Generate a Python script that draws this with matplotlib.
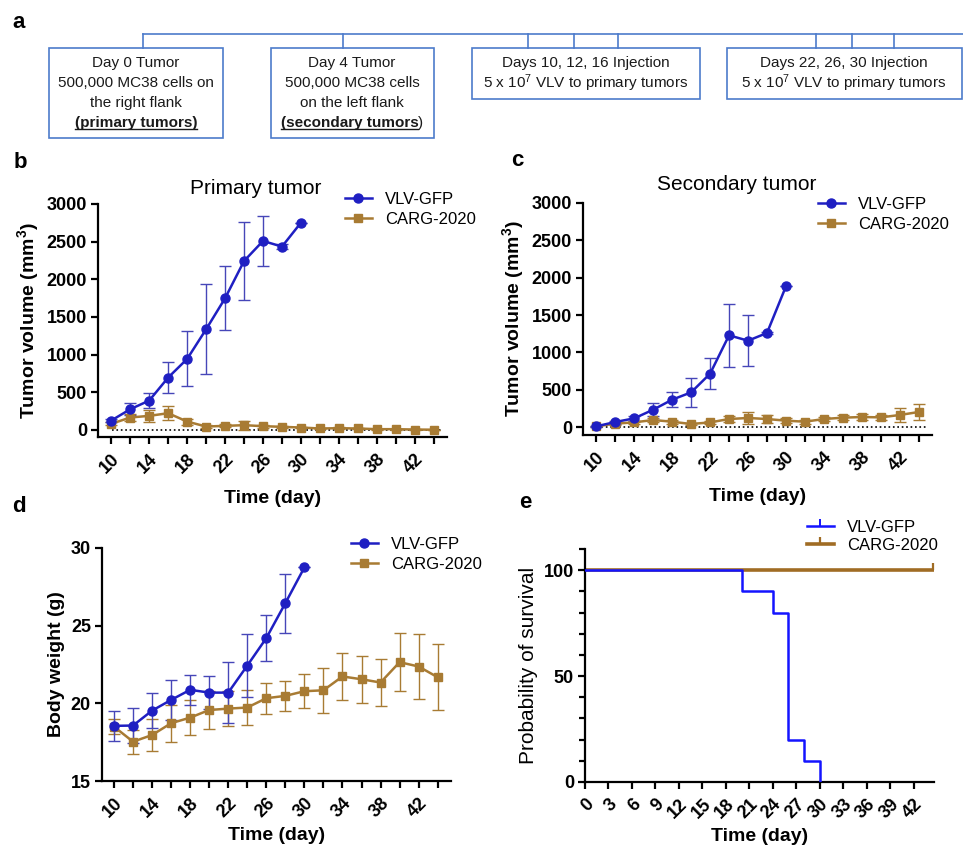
import numpy as np
import matplotlib
matplotlib.use("Agg")
import matplotlib.pyplot as plt
from matplotlib.patches import Rectangle
from matplotlib.lines import Line2D

plt.rcParams['font.family'] = ['Liberation Sans', 'DejaVu Sans']
plt.rcParams['mathtext.fontset'] = 'custom'
plt.rcParams['mathtext.rm'] = 'Liberation Sans'
plt.rcParams['mathtext.bf'] = 'Liberation Sans:bold'
plt.rcParams['mathtext.it'] = 'Liberation Sans:italic'

# ---- data ----
vlv_days = [10, 12, 14, 16, 18, 20, 22, 24, 26, 28, 30]
carg_days = [10, 12, 14, 16, 18, 20, 22, 24, 26, 28, 30, 32, 34, 36, 38, 40, 42, 44]

# b: primary tumor volume (mm3)
vlv_primary = [124, 274, 389, 695, 942, 1336, 1748, 2243, 2509, 2434, 2752]
vlv_primary_err = [25, 80, 100, 210, 365, 600, 425, 520, 335, 30, 0]
carg_primary = [80, 164, 186, 221, 110, 44, 53, 62, 49, 40, 31, 18, 22, 18, 9, 9, 4, 2]
carg_primary_err = [20, 50, 80, 95, 40, 15, 20, 60, 20, 15, 10, 8, 10, 8, 5, 5, 3, 2]

# c: secondary tumor volume (mm3)
vlv_secondary = [9, 67, 116, 232, 366, 464, 714, 1228, 1156, 1259, 1884]
vlv_secondary_err = [5, 20, 30, 90, 100, 195, 205, 425, 340, 20, 0]
carg_secondary = [9, 45, 62, 94, 71, 40, 62, 107, 121, 107, 85, 71, 107, 125, 134, 129, 161, 201]
carg_secondary_err = [5, 15, 20, 30, 25, 15, 20, 40, 80, 50, 30, 25, 30, 30, 35, 30, 95, 110]

# d: body weight (g)
vlv_weight = [18.55, 18.57, 19.53, 20.22, 20.87, 20.69, 20.69, 22.43, 24.2, 26.45, 28.75]
vlv_weight_err = [0.95, 1.1, 1.15, 1.3, 0.95, 1.05, 1.95, 2.05, 1.5, 1.9, 0]
carg_weight = [18.5, 17.53, 17.96, 18.72, 19.08, 19.57, 19.66, 19.73, 20.33, 20.48,
               20.78, 20.84, 21.73, 21.55, 21.34, 22.65, 22.37, 21.68]
carg_weight_err = [0.5, 0.77, 1.03, 1.2, 1.15, 1.2, 1.15, 1.13, 1.0, 0.95,
                   1.1, 1.45, 1.5, 1.5, 1.5, 1.85, 2.1, 2.12]

# e: survival (%)
vlv_surv_days = [0, 20, 24, 26, 28, 30]
vlv_surv = [100, 90, 80, 20, 10, 0]
carg_surv_days = [0, 44.5]
carg_surv = [100, 100]

growth_ticks = [10, 12, 14, 16, 18, 20, 22, 24, 26, 28, 30, 32, 34, 36, 38, 40, 42, 44]
growth_labels = ['10', '', '14', '', '18', '', '22', '', '26', '', '30', '', '34', '',
                 '38', '', '42', '']
surv_ticks = [0, 3, 6, 9, 12, 15, 18, 21, 24, 27, 30, 33, 36, 39, 42]

BLUE = '#1f1fc2'
BLUE_ERR = '#4646b8'
BROWN = '#a87b33'
SURV_BLUE = '#1414ff'
SURV_BROWN = '#a06c24'
BOXBLUE = '#4d7bcb'

W, H = 963, 849
fig = plt.figure(figsize=(W / 100, H / 100), dpi=100)


def axes_px(left, top, right, bottom):
    return fig.add_axes([left / W, 1 - bottom / H, (right - left) / W, (bottom - top) / H])


def style(ax):
    for s in ['top', 'right']:
        ax.spines[s].set_visible(False)
    for s in ['left', 'bottom']:
        ax.spines[s].set_linewidth(1.6)
    ax.tick_params(width=1.6, length=5, pad=3)
    ax.tick_params(axis='x', pad=5)


def yticks_bold(ax, ticks):
    ax.set_yticks(ticks, [str(t) for t in ticks], fontweight='bold', fontsize=13)


def growth_panel(ax, vlv, vlv_err, carg, carg_err, xpad):
    ax.errorbar(carg_days, carg, yerr=carg_err, fmt='none', ecolor=BROWN, elinewidth=1,
                capsize=4, capthick=1, zorder=2)
    ax.errorbar(vlv_days, vlv, yerr=vlv_err, fmt='none', ecolor=BLUE_ERR, elinewidth=1,
                capsize=4, capthick=1, zorder=3)
    l2, = ax.plot(carg_days, carg, '-s', color=BROWN, lw=1.8, ms=6, zorder=4, label='CARG-2020')
    l1, = ax.plot(vlv_days, vlv, '-o', color=BLUE, lw=1.8, ms=6.5, zorder=5, label='VLV-GFP')
    style(ax)
    ax.set_xticks(growth_ticks, growth_labels, rotation=45, ha='right', va='top',
                  rotation_mode='anchor', fontweight='bold', fontsize=13)
    ax.set_xlabel('Time (day)', fontsize=14, fontweight='bold', labelpad=xpad)
    return l1, l2


def legend_at(ax, handles, x, y, spacing=0.3):
    ax.legend(handles=handles, loc='upper left', bbox_to_anchor=(x / W, 1 - y / H),
              bbox_transform=fig.transFigure, frameon=False, borderpad=0, borderaxespad=0,
              handlelength=1.6, handletextpad=0.8, labelspacing=spacing, fontsize=12)


# ---- b: primary tumor ----
axb = axes_px(98, 204, 447, 437)
hb = growth_panel(axb, vlv_primary, vlv_primary_err, carg_primary, carg_primary_err, 9)
axb.axhline(0, color='black', ls=':', lw=1.2, xmin=0.04, xmax=0.985, zorder=1)
axb.set_xlim(8.6, 45.4)
axb.set_ylim(-95, 3000)
yticks_bold(axb, [0, 500, 1000, 1500, 2000, 2500, 3000])
axb.set_ylabel('Tumor volume (mm$^\\mathbf{3}$)', fontsize=14, fontweight='bold')
legend_at(axb, list(hb), 345, 192)
fig.text(256 / W, 1 - 189 / H, 'Primary tumor', fontsize=15, ha='center', va='center')

# ---- c: secondary tumor ----
axc = axes_px(583, 203, 932, 435)
hc = growth_panel(axc, vlv_secondary, vlv_secondary_err, carg_secondary, carg_secondary_err, 9)
axc.axhline(0, color='black', ls=':', lw=1.2, xmin=0.04, xmax=0.985, zorder=1)
axc.set_xlim(8.6, 45.4)
axc.set_ylim(-107, 3000)
yticks_bold(axc, [0, 500, 1000, 1500, 2000, 2500, 3000])
axc.set_ylabel('Tumor volume (mm$^\\mathbf{3}$)', fontsize=14, fontweight='bold')
legend_at(axc, list(hc), 818, 197)
fig.text(737 / W, 1 - 184 / H, 'Secondary tumor', fontsize=15, ha='center', va='center')

# ---- d: body weight ----
axd = axes_px(102, 548, 451, 781)
hd = growth_panel(axd, vlv_weight, vlv_weight_err, carg_weight, carg_weight_err, 4)
axd.set_xlim(8.74, 45.4)
axd.set_ylim(15, 30)
yticks_bold(axd, [15, 20, 25, 30])
axd.set_ylabel('Body weight (g)', fontsize=14, fontweight='bold')
legend_at(axd, list(hd), 351, 537)

# ---- e: survival ----
axe = axes_px(585, 549, 934, 782)
axe.plot(carg_surv_days, carg_surv, color=SURV_BROWN, lw=2.6, marker=2, markevery=[1],
         ms=5, mew=1.6, zorder=2)
axe.step(vlv_surv_days, vlv_surv, where='post', color=SURV_BLUE, lw=1.8, zorder=3)
style(axe)
axe.set_xlim(0, 44.6)
axe.set_ylim(0, 110)
axe.set_xticks(surv_ticks, [str(t) for t in surv_ticks], rotation=45, ha='right', va='top',
               rotation_mode='anchor', fontweight='bold', fontsize=13)
yticks_bold(axe, [0, 50, 100])
axe.set_yticks(np.arange(0, 111, 10), minor=True)
axe.tick_params(which='minor', width=1.6, length=4)
axe.set_xlabel('Time (day)', fontsize=14, fontweight='bold', labelpad=4)
axe.set_ylabel('Probability of survival', fontsize=15)
legend_handles = [Line2D([], [], color=SURV_BLUE, lw=1.8, marker=2, ms=5, mew=1.4, markevery=[1]),
                  Line2D([], [], color=SURV_BROWN, lw=2.6, marker=2, ms=5, mew=1.6, markevery=[1])]
axe.legend(legend_handles, ['VLV-GFP', 'CARG-2020'], loc='upper left',
           bbox_to_anchor=(807 / W, 1 - 520 / H), bbox_transform=fig.transFigure,
           frameon=False, borderpad=0, borderaxespad=0, handlelength=1.6,
           handletextpad=0.8, labelspacing=0.15, fontsize=12)

# ---- a: timeline schematic ----
axa = fig.add_axes([0, 1 - 145 / H, 1, 145 / H])
axa.set_xlim(0, W)
axa.set_ylim(145, 0)
axa.axis('off')

boxes = [(49, 48, 174, 90), (271, 48, 163, 90), (472, 48, 228, 51), (727, 48, 235, 51)]
connectors = [143, 343, 528, 574, 618, 816, 852, 894]
axa.plot([connectors[0], W], [34, 34], color=BOXBLUE, lw=1.2)
for cx in connectors:
    axa.plot([cx, cx], [34, 48], color=BOXBLUE, lw=1.2)
for (x0, y0, bw, bh) in boxes:
    axa.add_patch(Rectangle((x0, y0), bw, bh, fill=False, edgecolor=BOXBLUE, lw=1.2))

box_text = [
    ['Day 0 Tumor', '500,000 MC38 cells on', 'the right flank'],
    ['Day 4 Tumor', '500,000 MC38 cells', 'on the left flank'],
    ['Days 10, 12, 16 Injection', '5 x 10$^7$ VLV to primary tumors'],
    ['Days 22, 26, 30 Injection', '5 x 10$^7$ VLV to primary tumors'],
]
box_cx = [136, 352, 586, 844]
line_y = [63, 83, 103, 123]
for cx, lines in zip(box_cx, box_text):
    for yy, s in zip(line_y, lines):
        axa.text(cx, yy, s, fontsize=11, ha='center', va='center', color='#1a1a1a')

renderer = fig.canvas.get_renderer()
inv = axa.transData.inverted()


def underline(t):
    bb = t.get_window_extent(renderer)
    (xa, ya), (xb, yb) = inv.transform([[bb.x0, bb.y0], [bb.x1, bb.y1]])
    yline = max(ya, yb) - 1
    axa.plot([xa, xb], [yline, yline], color='#1a1a1a', lw=1.0)


t = axa.text(box_cx[0], line_y[3], '(primary tumors)', fontsize=11, fontweight='bold',
             ha='center', va='center', color='#1a1a1a')
underline(t)

t1 = axa.text(0, line_y[3], '(secondary tumors', fontsize=11, fontweight='bold',
              ha='left', va='center', color='#1a1a1a')
t2 = axa.text(0, line_y[3], ')', fontsize=11, ha='left', va='center', color='#1a1a1a')
w1 = t1.get_window_extent(renderer).width
w2 = t2.get_window_extent(renderer).width
start = box_cx[1] - (w1 + w2) / 2
t1.set_x(start)
t2.set_x(start + w1)
underline(t1)

# ---- panel letters ----
for letter, (px, py) in zip('abcde', [(19, 23), (20, 163), (517, 161), (19, 506), (525, 502)]):
    fig.text(px / W, 1 - py / H, letter, fontsize=16, fontweight='bold', ha='center', va='center')

fig.savefig('out.png', dpi=100)
